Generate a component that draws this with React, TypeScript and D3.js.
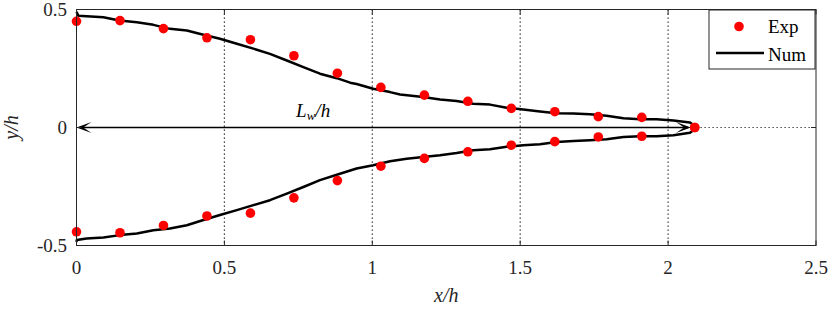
import React from "react";
import * as d3 from "d3";

// Experimental points
const expX = [0, 0.147, 0.294, 0.441, 0.588, 0.735, 0.882, 1.029, 1.176, 1.323, 1.47, 1.617, 1.764, 1.911, 2.09];
const expTop = [0.45, 0.453, 0.419, 0.38, 0.372, 0.304, 0.23, 0.17, 0.137, 0.111, 0.081, 0.067, 0.046, 0.043, 0.0];
const expBot = [-0.442, -0.446, -0.415, -0.375, -0.363, -0.298, -0.225, -0.164, -0.131, -0.103, -0.075, -0.06, -0.04, -0.037, 0.0];

// Numerical contour (upper branch, lower branch)
const numTopX = [0, 0.006, 0.091, 0.145, 0.204, 0.26, 0.316, 0.373, 0.429, 0.485, 0.542, 0.598, 0.654, 0.711, 0.767, 0.823, 0.88, 0.925, 0.947, 1.003, 1.06, 1.094, 1.172, 1.229, 1.285, 1.341, 1.398, 1.454, 1.51, 1.567, 1.623, 1.68, 1.736, 1.792, 1.849, 1.905, 1.961, 2.018, 2.074, 2.098];
const numTopY = [0.49, 0.474, 0.467, 0.453, 0.446, 0.435, 0.418, 0.411, 0.393, 0.376, 0.355, 0.334, 0.312, 0.284, 0.256, 0.228, 0.209, 0.19, 0.184, 0.164, 0.15, 0.14, 0.129, 0.119, 0.112, 0.101, 0.097, 0.084, 0.076, 0.068, 0.06, 0.059, 0.056, 0.05, 0.039, 0.035, 0.035, 0.03, 0.021, 0.0];
const numBotX = [0, 0.001, 0.034, 0.091, 0.147, 0.204, 0.26, 0.316, 0.373, 0.429, 0.485, 0.542, 0.598, 0.654, 0.711, 0.767, 0.823, 0.88, 0.947, 1.003, 1.06, 1.116, 1.172, 1.229, 1.285, 1.341, 1.398, 1.454, 1.51, 1.567, 1.623, 1.68, 1.736, 1.792, 1.849, 1.905, 1.961, 2.018, 2.074, 2.098];
const numBotY = [-0.485, -0.477, -0.47, -0.466, -0.456, -0.449, -0.435, -0.428, -0.414, -0.392, -0.371, -0.35, -0.329, -0.308, -0.28, -0.252, -0.223, -0.2, -0.174, -0.16, -0.143, -0.132, -0.125, -0.118, -0.108, -0.096, -0.092, -0.082, -0.075, -0.071, -0.061, -0.057, -0.054, -0.05, -0.04, -0.037, -0.037, -0.033, -0.022, 0.0];

const xTicks = [0, 0.5, 1, 1.5, 2, 2.5];
const xTickLabels = ["0", "0.5", "1", "1.5", "2", "2.5"];
const yTicks = [-0.5, 0, 0.5];
const yTickLabels = ["-0.5", "0", "0.5"];
const xGrid = [0.5, 1, 1.5, 2];
const arrowEnd = 2.077;

const W = 830;
const H = 309;
const FONT = "Liberation Serif, DejaVu Serif, serif";
const AX = "#262626";

export default function App() {
  const x = d3.scaleLinear().domain([0, 2.5]).range([76.5, 816]);
  const y = d3.scaleLinear().domain([-0.5, 0.5]).range([245.5, 9.5]);
  const line = d3.line<[number, number]>().x((d) => x(d[0])).y((d) => y(d[1]));
  const topPts: [number, number][] = numTopX.map((v, i) => [v, numTopY[i]]);
  const botPts: [number, number][] = numBotX.map((v, i) => [v, numBotY[i]]);
  const contour = topPts.concat(botPts.slice().reverse());

  const x0 = x(0), x1 = x(2.5), yT = y(0.5), yB = y(-0.5), y0 = y(0);
  const tl = 5;

  // arrowheads (vback2 style)
  const aL = 15, aW = 5.5, notch = 0.45;
  const leftTip = x(0);
  const rightTip = x(arrowEnd);
  const headLeft = `M${leftTip},${y0} L${leftTip + aL},${y0 - aW} L${leftTip + aL * notch},${y0} L${leftTip + aL},${y0 + aW} Z`;
  const headRight = `M${rightTip},${y0} L${rightTip - aL},${y0 - aW} L${rightTip - aL * notch},${y0} L${rightTip - aL},${y0 + aW} Z`;

  return (
    <svg width={W} height={H} style={{ position: "absolute", left: 0, top: 0, background: "#fff", fontFamily: FONT }}>
      <rect x={0} y={0} width={W} height={H} fill="#fff" />
      {/* grid */}
      {xGrid.map((g) => (
        <line key={"g" + g} x1={x(g)} x2={x(g)} y1={yT} y2={yB} stroke="#1a1a1a" strokeWidth={1.2} strokeDasharray="1.2,2.8" />
      ))}
      <line x1={x0} x2={x1} y1={y0} y2={y0} stroke="#1a1a1a" strokeWidth={1.2} strokeDasharray="1.2,2.8" />

      {/* arrow */}
      <line x1={leftTip + 3} x2={rightTip - 3} y1={y0} y2={y0} stroke="#000" strokeWidth={1.5} />
      <path d={headLeft} fill="#000" />
      <path d={headRight} fill="#000" />
      <text x={x(0.8)} y={116.5} fontSize={19} fontStyle="italic" textAnchor="middle" style={{ fontFamily: FONT }}>
        L<tspan fontSize={13} dy={3}>w</tspan><tspan dy={-3}>/h</tspan>
      </text>

      {/* numerical contour */}
      <path d={line(contour) || ""} fill="none" stroke="#000" strokeWidth={2.5} strokeLinejoin="round" />

      {/* experimental */}
      {expX.map((v, i) => (
        <circle key={"t" + i} cx={x(v)} cy={y(expTop[i])} r={4.8} fill="#ff0000" />
      ))}
      {expX.map((v, i) => (
        <circle key={"b" + i} cx={x(v)} cy={y(expBot[i])} r={4.8} fill="#ff0000" />
      ))}

      {/* frame */}
      <rect x={x0} y={yT} width={x1 - x0} height={yB - yT} fill="none" stroke={AX} strokeWidth={1} />
      {xTicks.map((t) => (
        <g key={"xt" + t}>
          <line x1={x(t)} x2={x(t)} y1={yB} y2={yB - tl} stroke={AX} />
          <line x1={x(t)} x2={x(t)} y1={yT} y2={yT + tl} stroke={AX} />
        </g>
      ))}
      {yTicks.map((t) => (
        <g key={"yt" + t}>
          <line x1={x0} x2={x0 + tl} y1={y(t)} y2={y(t)} stroke={AX} />
          <line x1={x1} x2={x1 - tl} y1={y(t)} y2={y(t)} stroke={AX} />
        </g>
      ))}
      {xTicks.map((t, i) => (
        <text key={"xl" + t} x={x(t)} y={274} fontSize={19} textAnchor="middle" fill={AX}>
          {xTickLabels[i]}
        </text>
      ))}
      {yTicks.map((t, i) => (
        <text key={"yl" + t} x={67} y={y(t) + 6.5} fontSize={19} textAnchor="end" fill={AX}>
          {yTickLabels[i]}
        </text>
      ))}
      <text x={(x0 + x1) / 2} y={302} fontSize={20} fontStyle="italic" textAnchor="middle" fill={AX}>
        x/h
      </text>
      <text transform={`translate(18,${y0}) rotate(-90)`} fontSize={20} fontStyle="italic" textAnchor="middle" fill={AX}>
        y/h
      </text>

      {/* legend */}
      <rect x={709} y={10} width={106} height={59} fill="#fff" stroke={AX} strokeWidth={1} />
      <circle cx={739} cy={26.5} r={4.8} fill="#ff0000" />
      <text x={768} y={33} fontSize={19} fill="#000">Exp</text>
      <line x1={716} x2={764} y1={53} y2={53} stroke="#000" strokeWidth={2.5} />
      <text x={768} y={61} fontSize={19} fill="#000">Num</text>
    </svg>
  );
}
